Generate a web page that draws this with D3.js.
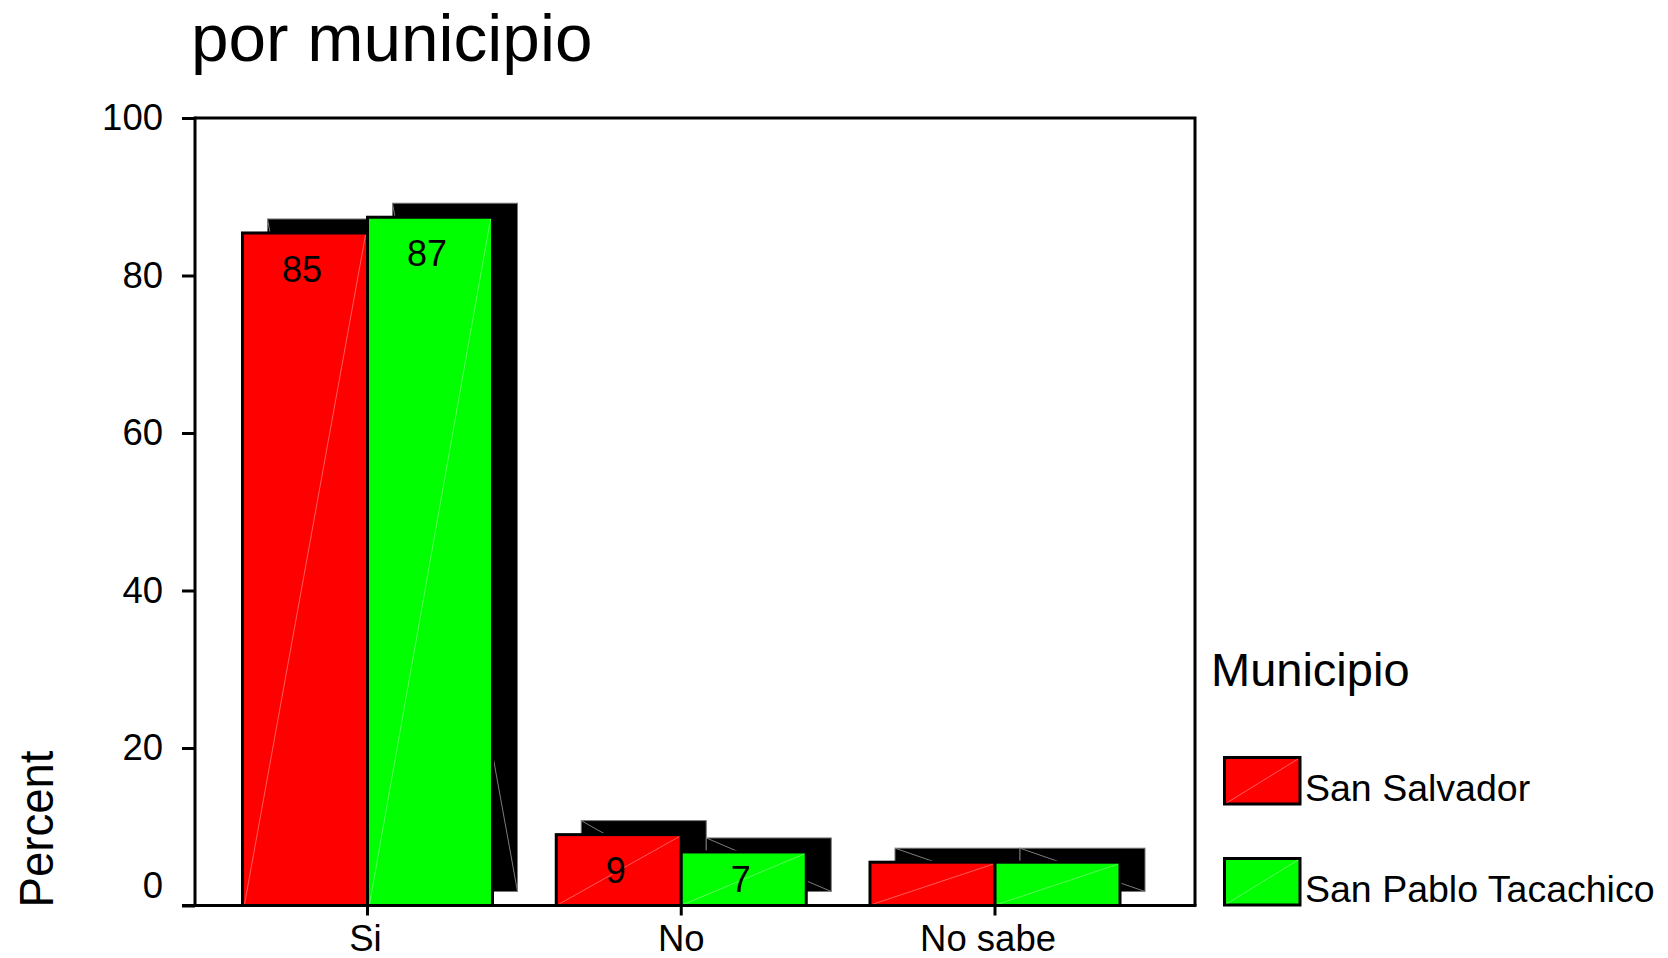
<!DOCTYPE html>
<html>
<head>
<meta charset="utf-8">
<script src="https://cdn.jsdelivr.net/npm/d3@7"></script>
<style>
  html, body { margin: 0; padding: 0; background: #fff; }
  svg { display: block; font-family: "Liberation Sans", Arial, Helvetica, sans-serif; }
</style>
</head>
<body>
<svg id="chart" width="1668" height="958"></svg>
<script>
// ---- data ----
const categories = ["Si", "No", "No sabe"];
const seriesNames = ["San Salvador", "San Pablo Tacachico"];
const sanSalvador = [85.4, 9.0, 5.5];
const sanPablo = [87.4, 6.8, 5.5];
const sanSalvadorLabels = ["85", "9", null];
const sanPabloLabels = ["87", "7", null];
const yTicks = [0, 20, 40, 60, 80, 100];
const seriesColors = ["#ff0000", "#00ff00"];
const titleText = "por municipio";
const yTitle = "Percent";
const legendTitle = "Municipio";

const seriesValues = [sanSalvador, sanPablo];
const seriesLabels = [sanSalvadorLabels, sanPabloLabels];

// ---- layout ----
const svg = d3.select("#chart");
const X0 = 195, X1 = 1195, Y0 = 118, Y1 = 905.5;
const step = 313.75, bw = 250;
const shadowDx = 25, shadowDy = -14;

const y = d3.scaleLinear().domain([0, 100]).range([Y1, Y0]);
const x = d3.scaleBand().domain(categories)
  .range([367.5 - step / 2, 367.5 - step / 2 + 3 * step])
  .paddingInner(1 - bw / step).paddingOuter((1 - bw / step) / 2);
const xs = d3.scaleBand().domain(seriesNames).range([0, x.bandwidth()]).padding(0);

const rows = [];
categories.forEach((c, i) => {
  seriesNames.forEach((s, j) => {
    rows.push({ cat: c, ser: s, si: j, value: seriesValues[j][i], label: seriesLabels[j][i] });
  });
});
const bx = d => x(d.cat) + xs(d.ser);
const bwid = xs.bandwidth();

// title
svg.append("text").attr("x", 191).attr("y", 61)
  .attr("font-size", 67.5).attr("fill", "#000").text(titleText);

// shadows
const gShadow = svg.append("g");
gShadow.selectAll("rect").data(rows).join("rect")
  .attr("x", d => bx(d) + shadowDx)
  .attr("y", d => y(d.value) + shadowDy)
  .attr("width", bwid)
  .attr("height", d => Y1 - y(d.value))
  .attr("fill", "#000").attr("stroke", "#777").attr("stroke-width", 1);
gShadow.selectAll("line").data(rows).join("line")
  .attr("x1", d => bx(d) + shadowDx)
  .attr("y1", d => y(d.value) + shadowDy)
  .attr("x2", d => bx(d) + shadowDx + bwid)
  .attr("y2", Y1 + shadowDy)
  .attr("stroke", "#8a8a8a").attr("stroke-width", 0.9);

// bars
const gBars = svg.append("g");
gBars.selectAll("rect").data(rows).join("rect")
  .attr("x", d => bx(d))
  .attr("y", d => y(d.value))
  .attr("width", bwid)
  .attr("height", d => Y1 - y(d.value))
  .attr("fill", d => seriesColors[d.si])
  .attr("stroke", "#000").attr("stroke-width", 3);
gBars.selectAll("line").data(rows).join("line")
  .attr("x1", d => bx(d) + 2)
  .attr("y1", Y1 - 1)
  .attr("x2", d => bx(d) + bwid - 2)
  .attr("y2", d => y(d.value) + 2)
  .attr("stroke", "rgba(255,255,255,0.45)").attr("stroke-width", 0.8);

// value labels
svg.append("g").selectAll("text").data(rows.filter(d => d.label)).join("text")
  .attr("x", d => bx(d) + bwid / 2 - 3)
  .attr("y", d => Math.min(y(d.value) + 36, (y(d.value) + Y1) / 2))
  .attr("dy", "0.36em")
  .attr("text-anchor", "middle").attr("font-size", 36).attr("fill", "#000")
  .text(d => d.label);

// frame
svg.append("path")
  .attr("d", `M${X0},${Y0}H${X1}V${Y1}`)
  .attr("fill", "none").attr("stroke", "#000").attr("stroke-width", 3);
svg.append("line").attr("x1", X0).attr("x2", X0).attr("y1", Y0 - 1.5).attr("y2", Y1 + 1.5)
  .attr("stroke", "#000").attr("stroke-width", 3);

// y axis
const yAxis = svg.append("g").attr("transform", `translate(${X0},0)`)
  .call(d3.axisLeft(y).tickValues(yTicks).tickSize(13).tickPadding(19).tickFormat(d3.format("d")));
yAxis.select(".domain").remove();
yAxis.selectAll(".tick line").attr("stroke", "#000").attr("stroke-width", 3);
yAxis.selectAll(".tick text").attr("font-size", 36.5).attr("font-family", null).attr("fill", "#000")
  .attr("y", d => d === 0 ? -20 : 0);

// x axis
const xAxis = svg.append("g").attr("transform", `translate(0,${Y1})`)
  .call(d3.axisBottom(x).tickSize(10).tickPadding(10));
xAxis.select(".domain").attr("d", `M${X0 - 13},0H${X1 + 1.5}`).attr("stroke", "#000").attr("stroke-width", 3);
xAxis.selectAll(".tick line").attr("stroke", "#000").attr("stroke-width", 3);
xAxis.selectAll(".tick text").attr("font-size", 36.5).attr("font-family", null).attr("fill", "#000")
  .attr("dx", d => d === "No sabe" ? -7 : (d === "Si" ? -2 : 0));

// y title
svg.append("text").attr("transform", `translate(53,829) rotate(-90)`)
  .attr("text-anchor", "middle").attr("font-size", 49)
  .attr("textLength", 157).attr("lengthAdjust", "spacingAndGlyphs")
  .attr("fill", "#000").text(yTitle);

// legend
const lg = svg.append("g");
lg.append("text").attr("x", 1211).attr("y", 686).attr("font-size", 47).attr("fill", "#000").text(legendTitle);
const legendY = d3.scalePoint().domain(seriesNames).range([757.5, 858.5]);
const li = lg.selectAll("g.item").data(seriesNames).join("g").attr("class", "item")
  .attr("transform", d => `translate(1224.5,${legendY(d)})`);
li.append("rect").attr("width", 75.5).attr("height", 46.5)
  .attr("fill", (d, i) => seriesColors[i]).attr("stroke", "#000").attr("stroke-width", 3);
li.append("line").attr("x1", 2).attr("y1", 45.5).attr("x2", 73.5).attr("y2", 1.5)
  .attr("stroke", "rgba(255,255,255,0.45)").attr("stroke-width", 0.8);
li.append("text").attr("x", 80.5).attr("y", 43.5).attr("font-size", 37.5).attr("fill", "#000").text(d => d);
</script>
</body>
</html>
